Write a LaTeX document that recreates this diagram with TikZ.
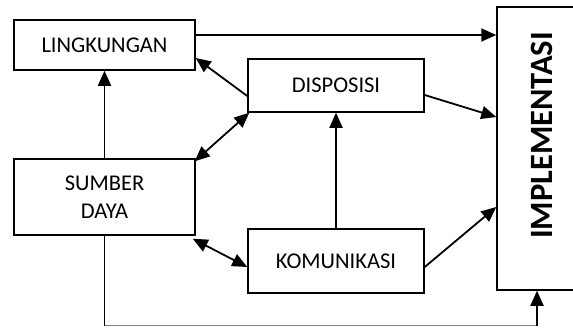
\documentclass[tikz,border=0pt]{standalone}
\usepackage{fontspec}
\setmainfont{Carlito}
\usetikzlibrary{arrows.meta}
\begin{document}
\begin{tikzpicture}[x=1pt,y=-1pt,
  box/.style={draw,line width=1.5pt,inner sep=0pt,align=center,font=\fontsize{22.5}{28}\selectfont},
  tip/.style={Triangle[length=15pt,width=13pt]},
  arr/.style={line width=1.8pt,-{Triangle[length=15pt,width=13pt]}},
  darr/.style={line width=1.8pt,{Triangle[length=15pt,width=13pt]}-{Triangle[length=15pt,width=13pt]}},
  plain/.style={line width=1.8pt}]
\useasboundingbox (0,0) rectangle (573,327);
\node[box,minimum width=181pt,minimum height=50pt] (ling) at (104.5,45) {LINGKUNGAN};
\node[box,minimum width=176pt,minimum height=53pt] (disp) at (336,85.5) {DISPOSISI};
\node[box,minimum width=181pt,minimum height=76pt] (sumber) at (104.5,197) {SUMBER\\DAYA};
\node[box,minimum width=176pt,minimum height=64pt] (komu) at (336,261) {KOMUNIKASI};
\node[draw,line width=1.5pt,minimum width=80pt,minimum height=283pt,inner sep=0pt] (impl) at (537,148.5) {};
\node[rotate=90,font=\bfseries\fontsize{32.5}{32}\selectfont] (impltext) at (542,135.5) {IMPLEMENTASI};
\coordinate (bl) at (104.5,325.5);
\coordinate (br) at (537,325.5);
\draw[arr] ([yshift=10pt]ling.east) -- ([yshift=10pt]ling.east -| impl.west);
\draw[arr] ([yshift=-10.5pt]disp.west) -- ([yshift=-13pt]ling.east);
\draw[darr] ([xshift=-1pt,yshift=-3pt]sumber.north east) -- ([xshift=2pt]disp.south west);
\draw[arr] ([yshift=-9.5pt]disp.east) -- ([yshift=31.5pt]impl.west);
\draw[arr] (komu.north) -- (disp.south);
\draw[arr] ([yshift=-6pt]komu.east) -- ([yshift=-58.5pt]impl.west);
\draw[darr] ([xshift=-3pt,yshift=-3pt]sumber.south east) -- ([yshift=-6pt]komu.west);
\draw[arr] (sumber.north) -- (ling.south);
\draw[plain] (sumber.south) -- (bl);
\draw[gray,line width=0.8pt] (bl) -- (br);
\draw[arr] (br) -- (impl.south);
\end{tikzpicture}
\end{document}
